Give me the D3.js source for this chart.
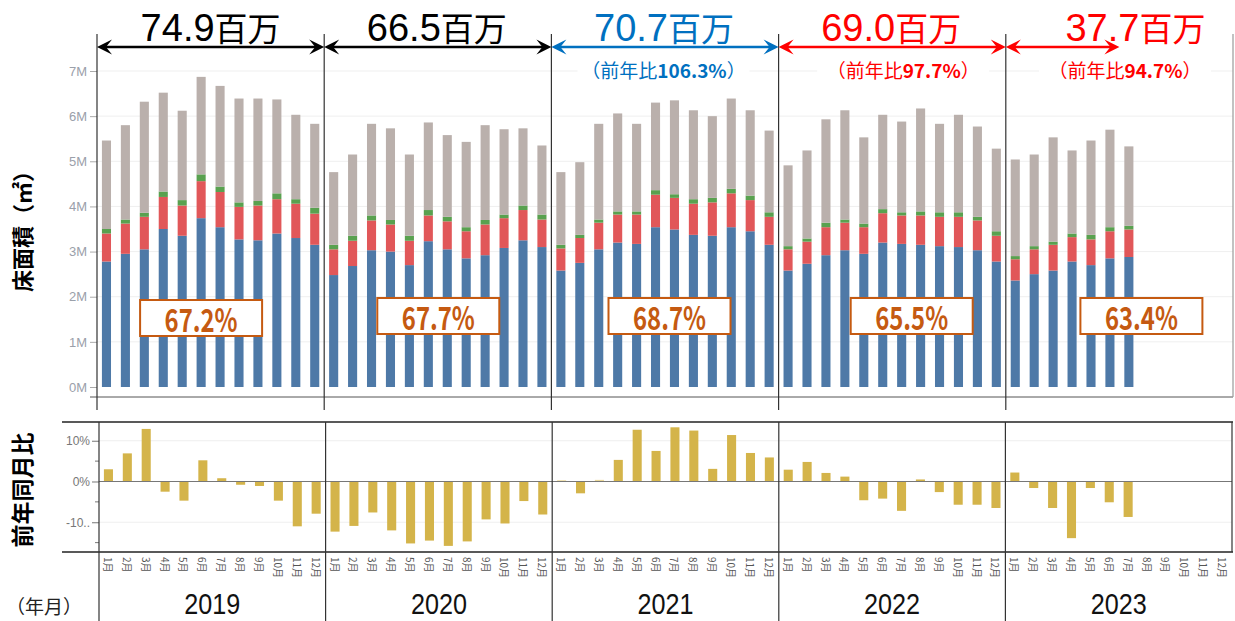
<!DOCTYPE html>
<html>
<head>
<meta charset="utf-8">
<script src="https://cdn.jsdelivr.net/npm/d3@7"></script>
<style>
  body { margin: 0; background: #fff; }
  svg { display: block; }
</style>
</head>
<body>
<div id="chart"></div>
<script>
// ---- data ----
const years = ['2019', '2020', '2021', '2022', '2023'];
const monthLabels = ['1月', '2月', '3月', '4月', '5月', '6月', '7月', '8月', '9月', '10月', '11月', '12月'];

// floor area by segment, millions of m2 (null = not yet reported)
const blueVals = [
  2.78, 2.95, 3.05, 3.50, 3.35, 3.74, 3.54, 3.27, 3.25, 3.40, 3.30, 3.15,
  2.48, 2.68, 3.03, 3.00, 2.70, 3.23, 3.05, 2.85, 2.92, 3.08, 3.25, 3.10,
  2.58, 2.75, 3.05, 3.20, 3.17, 3.54, 3.49, 3.37, 3.35, 3.54, 3.45, 3.15,
  2.58, 2.73, 2.92, 3.03, 2.95, 3.20, 3.17, 3.15, 3.12, 3.10, 3.03, 2.78,
  2.36, 2.50, 2.58, 2.78, 2.70, 2.85, 2.88, null, null, null, null, null,
];
const redVals = [
  0.62, 0.67, 0.72, 0.71, 0.67, 0.82, 0.78, 0.72, 0.77, 0.76, 0.76, 0.69,
  0.57, 0.56, 0.66, 0.60, 0.54, 0.57, 0.62, 0.60, 0.68, 0.66, 0.67, 0.61,
  0.49, 0.55, 0.59, 0.62, 0.65, 0.72, 0.70, 0.69, 0.74, 0.75, 0.69, 0.62,
  0.47, 0.49, 0.62, 0.61, 0.59, 0.65, 0.63, 0.65, 0.65, 0.67, 0.66, 0.57,
  0.47, 0.55, 0.57, 0.54, 0.57, 0.60, 0.61, null, null, null, null, null,
];
const greenVals = [
  0.10, 0.09, 0.09, 0.12, 0.12, 0.15, 0.12, 0.10, 0.10, 0.13, 0.10, 0.13,
  0.10, 0.11, 0.11, 0.10, 0.11, 0.12, 0.10, 0.09, 0.10, 0.08, 0.10, 0.11,
  0.08, 0.07, 0.07, 0.07, 0.07, 0.10, 0.08, 0.10, 0.10, 0.10, 0.10, 0.10,
  0.07, 0.07, 0.10, 0.07, 0.08, 0.09, 0.07, 0.09, 0.10, 0.10, 0.08, 0.10,
  0.07, 0.07, 0.07, 0.08, 0.10, 0.09, 0.08, null, null, null, null, null,
];
const grayVals = [
  1.96, 2.09, 2.46, 2.19, 1.98, 2.16, 2.23, 2.30, 2.27, 2.08, 1.87, 1.86,
  1.61, 1.80, 2.03, 2.03, 1.80, 1.94, 1.81, 1.89, 2.10, 1.89, 1.71, 1.53,
  1.61, 1.61, 2.12, 2.17, 1.94, 1.94, 2.08, 1.97, 1.81, 2.00, 1.89, 1.81,
  1.79, 1.95, 2.29, 2.42, 1.91, 2.09, 2.01, 2.28, 1.96, 2.16, 2.00, 1.83,
  2.14, 2.03, 2.31, 1.84, 2.09, 2.16, 1.76, null, null, null, null, null,
];
// year-on-year change by month, %
const yoyVals = [
  3.0, 6.9, 12.9, -2.5, -4.7, 5.2, 0.8, -0.8, -1.1, -4.7, -11.0, -7.9,
  -12.3, -10.9, -7.6, -12.0, -15.2, -14.5, -15.8, -14.7, -9.3, -10.3, -4.8, -8.1,
  0.3, -2.9, 0.4, 5.3, 12.7, 7.5, 13.3, 12.5, 3.1, 11.4, 7.0, 5.9,
  2.9, 4.8, 2.1, 1.2, -4.6, -4.2, -7.2, 0.5, -2.6, -5.7, -5.7, -6.5,
  2.2, -1.6, -6.5, -13.9, -1.6, -5.1, -8.7, null, null, null, null, null,
];

const yearTotals = ['74.9', '66.5', '70.7', '69.0', '37.7'];
const yearChange = [null, null, '106.3%', '97.7%', '94.7%'];
const yearShares = ['67.2%', '67.7%', '68.7%', '65.5%', '63.4%'];
const floorTicks = [0, 1, 2, 3, 4, 5, 6, 7];
const yoyTicks = [10, 0, -10];
const yoyTickLabels = ['10%', '0%', '-10..'];
const yoyMinorTicks = [5, -5, -15];

// ---- look ----
const width = 1235;
const height = 621;
const colors = { blue: '#4E79A7', red: '#E15759', green: '#59A14F', gray: '#BAB0AC' };
const yoyColor = '#D4B44A';
const headColors = ['#000000', '#000000', '#0070C0', '#FF0000', '#FF0000'];
const titleShift = [0, -1, -1, -1, 16];
const changeShift = [0, 0, -1.5, 11, 5.6];
const shareShift = [-9.5, 0.5, 4.5, 19.5, 22];
const arrowSpan = [1, 1, 1, 1, 0.5];
const jp = '"Noto Sans CJK JP", "Noto Sans", sans-serif';
const latin = '"Liberation Sans", Arial, sans-serif';
const narrow = '"Liberation Sans Narrow", "Liberation Sans", Arial, sans-serif';

const keys = d3.range(years.length * 12).map(i => `${years[Math.floor(i / 12)]}-${i % 12 + 1}`);
const rows = keys.map((key, i) => ({
  key,
  month: monthLabels[i % 12],
  blue: blueVals[i],
  red: redVals[i],
  green: greenVals[i],
  gray: grayVals[i],
  yoy: yoyVals[i],
}));

const xScale = d3.scaleBand().domain(keys).range([97, 1233]).paddingInner(0.52).paddingOuter(0.26);
const xScaleB = xScale.copy().range([99, 1232]);
const yearScale = d3.scaleBand().domain(years).range([97, 1233]);
const yearScaleB = yearScale.copy().range([99, 1232]);
const yScale = d3.scaleLinear().domain([0, 7]).range([387, 71]);
const yoyScale = d3.scaleLinear().domain([-17.3, 14.6]).range([552, 422]);

const svg = d3.select('#chart').append('svg')
  .attr('width', width)
  .attr('height', height)
  .style('font-family', jp);

// ---- top chart: floor area ----
svg.append('g')
  .selectAll('line')
  .data(floorTicks.filter(d => d > 0))
  .enter()
  .append('line')
  .attr('x1', 97)
  .attr('x2', 1233)
  .attr('y1', d => yScale(d))
  .attr('y2', d => yScale(d))
  .style('stroke', '#efefef');

const yAxis = d3.axisLeft(yScale)
  .tickValues(floorTicks)
  .tickFormat(d => `${d}M`)
  .tickSize(7)
  .tickPadding(3);

const yAxisG = svg.append('g')
  .attr('transform', 'translate(97,0)')
  .call(yAxis);
yAxisG.select('.domain').remove();
yAxisG.selectAll('line').style('stroke', '#aaa');
yAxisG.selectAll('text')
  .style('font-family', latin)
  .style('font-size', '13px')
  .style('fill', '#9aa0aa');

const stacked = d3.stack()
  .keys(['blue', 'red', 'green', 'gray'])(rows.filter(d => d.blue !== null));

svg.append('g')
  .selectAll('g')
  .data(stacked)
  .enter()
  .append('g')
  .style('fill', s => colors[s.key])
  .selectAll('rect')
  .data(s => s)
  .enter()
  .append('rect')
  .attr('x', d => xScale(d.data.key))
  .attr('width', xScale.bandwidth())
  .attr('y', d => yScale(d[1]))
  .attr('height', d => yScale(d[0]) - yScale(d[1]));

// axis line under the bars
svg.append('line')
  .attr('x1', 90).attr('x2', 1233)
  .attr('y1', 397).attr('y2', 397)
  .style('stroke', '#555');

// year dividers
const edges = years.map(yr => yearScale(yr)).concat([yearScale.range()[1]]);
svg.append('g')
  .selectAll('line')
  .data(edges)
  .enter()
  .append('line')
  .attr('x1', d => d).attr('x2', d => d)
  .attr('y1', 34).attr('y2', (d, i) => (i === edges.length - 1 ? 397 : 410))
  .style('stroke', (d, i) => (i === edges.length - 1 ? '#999' : '#333'))
  .style('stroke-width', 1.2);

// arrows
const arrowY = 47;
const arrowHead = (tip, dir) => `M${tip},${arrowY}L${tip + dir * 15},${arrowY - 7.5}L${tip + dir * 9},${arrowY}L${tip + dir * 15},${arrowY + 7.5}Z`;

years.forEach((yr, i) => {
  const x1 = yearScale(yr);
  const x2 = x1 + yearScale.bandwidth() * arrowSpan[i];
  const g = svg.append('g');
  g.append('line')
    .attr('x1', x1 + 6).attr('x2', x2 - 6)
    .attr('y1', arrowY).attr('y2', arrowY)
    .style('stroke', headColors[i])
    .style('stroke-width', 2.5);
  g.append('path').attr('d', arrowHead(x1, 1)).style('fill', headColors[i]);
  g.append('path').attr('d', arrowHead(x2, -1)).style('fill', headColors[i]);

  const cx = x1 + yearScale.bandwidth() / 2;

  const title = svg.append('text')
    .attr('x', cx + titleShift[i])
    .attr('y', 41)
    .attr('text-anchor', 'middle')
    .style('fill', headColors[i]);
  title.append('tspan')
    .style('font-family', latin)
    .style('font-size', '38px')
    .text(yearTotals[i]);
  title.append('tspan')
    .style('font-size', '33px')
    .text('百万');

  if (yearChange[i]) {
    const sx = cx + changeShift[i];
    svg.append('rect')
      .attr('x', sx - 86).attr('y', 60)
      .attr('width', 172).attr('height', 24)
      .style('fill', '#fff');
    const t = svg.append('text')
      .attr('x', sx)
      .attr('y', 78)
      .attr('text-anchor', 'middle')
      .style('font-size', '19px')
      .style('fill', headColors[i]);
    t.append('tspan').text('（前年比');
    t.append('tspan').style('font-weight', 'bold').text(yearChange[i]);
    t.append('tspan').text('）');
  }

  const bx = cx + shareShift[i];
  const by = i === 0 ? 300 : 298;
  svg.append('rect')
    .attr('x', bx - 61).attr('y', by)
    .attr('width', 122).attr('height', 36)
    .style('fill', '#fff')
    .style('stroke', '#C55A11')
    .style('stroke-width', 2);
  svg.append('text')
    .attr('x', bx)
    .attr('y', by + 32)
    .attr('text-anchor', 'middle')
    .attr('textLength', 73)
    .attr('lengthAdjust', 'spacingAndGlyphs')
    .style('font-size', '32px')
    .style('font-weight', 'bold')
    .style('fill', '#C55A11')
    .text(yearShares[i]);
});

svg.append('text')
  .attr('transform', 'translate(21,226) rotate(-90)')
  .attr('text-anchor', 'middle')
  .attr('dominant-baseline', 'central')
  .style('font-size', '22px')
  .style('font-weight', 'bold')
  .text('床面積（㎡）');

// ---- bottom chart: year-on-year ----
svg.append('g')
  .selectAll('line')
  .data([10, -10])
  .enter()
  .append('line')
  .attr('x1', 99).attr('x2', 1232)
  .attr('y1', d => yoyScale(d)).attr('y2', d => yoyScale(d))
  .style('stroke', '#efefef');

svg.append('g')
  .selectAll('rect')
  .data(rows.filter(d => d.yoy !== null))
  .enter()
  .append('rect')
  .attr('x', d => xScaleB(d.key))
  .attr('width', xScaleB.bandwidth())
  .attr('y', d => yoyScale(Math.max(0, d.yoy)))
  .attr('height', d => Math.abs(yoyScale(d.yoy) - yoyScale(0)))
  .style('fill', d => (Math.abs(d.yoy) < 0.5 ? '#ecd99a' : yoyColor));

svg.append('line')
  .attr('x1', 99).attr('x2', 1232)
  .attr('y1', yoyScale(0)).attr('y2', yoyScale(0))
  .style('stroke', '#777')
  .style('stroke-width', 1.2);

const yoyAxis = d3.axisLeft(yoyScale)
  .tickValues(yoyTicks)
  .tickFormat((d, i) => yoyTickLabels[i])
  .tickSize(7)
  .tickPadding(2);
const yoyAxisG = svg.append('g')
  .attr('transform', 'translate(99,0)')
  .call(yoyAxis);
yoyAxisG.select('.domain').remove();
yoyAxisG.selectAll('line').style('stroke', '#777');
yoyAxisG.selectAll('text')
  .style('font-family', latin)
  .style('font-size', '12px')
  .style('fill', '#777');

svg.append('g')
  .selectAll('line')
  .data(yoyMinorTicks)
  .enter()
  .append('line')
  .attr('x1', 95).attr('x2', 99)
  .attr('y1', d => yoyScale(d)).attr('y2', d => yoyScale(d))
  .style('stroke', '#777');

// frame
[422, 552].forEach(yy => {
  svg.append('line')
    .attr('x1', 62).attr('x2', 1233)
    .attr('y1', yy).attr('y2', yy)
    .style('stroke', '#222')
    .style('stroke-width', 1.4);
});
const edgesB = years.map(yr => yearScaleB(yr));
svg.append('g')
  .selectAll('line')
  .data(edgesB)
  .enter()
  .append('line')
  .attr('x1', d => d).attr('x2', d => d)
  .attr('y1', 422).attr('y2', 621)
  .style('stroke', '#333')
  .style('stroke-width', 1.2);
svg.append('line')
  .attr('x1', 1232).attr('x2', 1232)
  .attr('y1', 422).attr('y2', 552)
  .style('stroke', '#333')
  .style('stroke-width', 1.2);

// month labels
svg.append('g')
  .selectAll('text')
  .data(rows)
  .enter()
  .append('text')
  .attr('transform', d => `translate(${xScaleB(d.key) + xScaleB.bandwidth() / 2},557) rotate(90)`)
  .attr('dominant-baseline', 'central')
  .style('font-size', '10px')
  .style('fill', '#555')
  .text(d => d.month);

// year labels
svg.append('g')
  .selectAll('text')
  .data(years)
  .enter()
  .append('text')
  .attr('x', d => yearScaleB(d) + yearScaleB.bandwidth() / 2)
  .attr('y', 614)
  .attr('text-anchor', 'middle')
  .attr('textLength', 56)
  .attr('lengthAdjust', 'spacingAndGlyphs')
  .style('font-family', narrow)
  .style('font-size', '30px')
  .style('fill', '#111')
  .text(d => d);

svg.append('text')
  .attr('x', 6)
  .attr('y', 614)
  .style('font-size', '19px')
  .style('fill', '#222')
  .text('（年月）');

svg.append('text')
  .attr('transform', 'translate(21,490) rotate(-90)')
  .attr('text-anchor', 'middle')
  .attr('dominant-baseline', 'central')
  .style('font-size', '23px')
  .style('font-weight', 'bold')
  .text('前年同月比');
</script>
</body>
</html>
